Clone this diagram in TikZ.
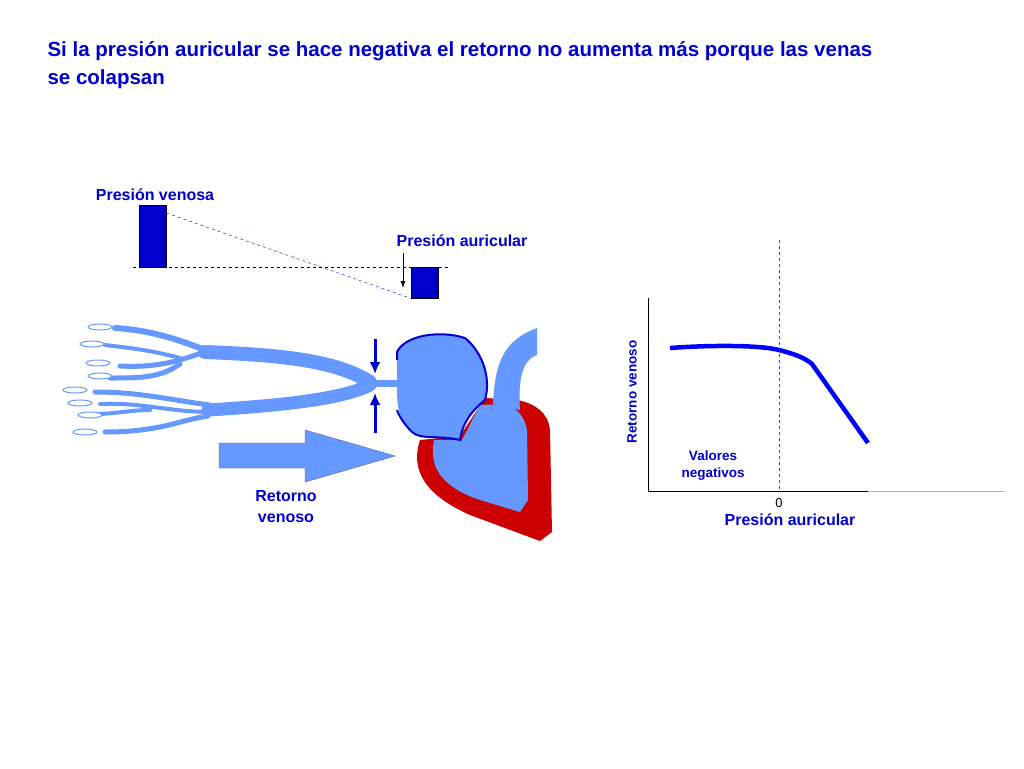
\documentclass[tikz,border=0pt]{standalone}
\usepackage{fontspec}
\setmainfont{Liberation Sans}
\usetikzlibrary{arrows.meta}
\begin{document}
\begin{tikzpicture}[x=1pt,y=-1pt,
  vein/.style={draw=vb,line cap=round,line join=round},
  tip/.style={draw=vb,fill=white,line width=1pt},
  txt/.style={text=dblue,font=\bfseries}]
\definecolor{vb}{RGB}{102,153,255}
\definecolor{hred}{RGB}{204,0,0}
\definecolor{dblue}{RGB}{0,0,204}
\useasboundingbox (0,0) rectangle (1024,768);
% title
\node[txt,anchor=north west,align=left,font=\bfseries\fontsize{20.5}{28}\selectfont] (title) at (44,38) {Si la presión auricular se hace negativa el retorno no aumenta más porque las venas\\se colapsan};
% top boxes
\draw[dashed] (133,267) -- (450,267);
\node[draw=black,fill=dblue,minimum width=27,minimum height=62,inner sep=0,anchor=north west] (pv) at (139,205) {};
\node[draw=black,fill=dblue,minimum width=27,minimum height=31,inner sep=0,anchor=north west] (pa) at (411,267) {};
\draw[dashed,dblue] (pv.north east)++(0,8) -- (pa.south west);
\node[txt,font=\bfseries\fontsize{16}{19}\selectfont] (lpv) at (155,195) {Presión venosa};
\node[txt,font=\bfseries\fontsize{16}{19}\selectfont] (lpa) at (462,241) {Presión auricular};
\coordinate (a1) at (403,253);
\draw[-{Latex[length=7pt,width=5pt]},thick] (a1) -- (403,288);
% veins
\draw[vein,line width=14pt] (205,352) .. controls (280,355) and (335,360) .. (370,382);
\draw[vein,line width=13pt] (208,410) .. controls (290,405) and (345,398) .. (370,385);
\draw[vein,line width=7pt] (360,383) -- (400,383);
\draw[vein,line width=6pt] (205,350) .. controls (180,340) and (150,330) .. (115,328);
\draw[vein,line width=5pt] (205,352) .. controls (180,360) and (160,368) .. (120,366);
\draw[vein,line width=4pt] (180,358) .. controls (150,350) and (130,348) .. (105,345);
\draw[vein,line width=5pt] (180,364) .. controls (160,378) and (140,378) .. (110,378);
\draw[vein,line width=5pt] (210,405) .. controls (170,400) and (140,392) .. (95,392);
\draw[vein,line width=4pt] (210,412) .. controls (170,412) and (140,402) .. (100,404);
\draw[vein,line width=5pt] (208,416) .. controls (180,420) and (160,432) .. (105,432);
\draw[vein,line width=4pt] (150,410) .. controls (130,410) and (115,414) .. (95,414);
\foreach \x/\y in {100/327,92/344,98/363,100/376,75/390,80/403,90/415,85/432}
  \draw[tip] (\x,\y) ellipse (12 and 3);
% heart
\fill[hred] (420,440) .. controls (410,470) and (425,495) .. (470,515) -- (540,541) -- (552,532) -- (550,430) .. controls (548,412) and (535,404) .. (518,400) -- (485,398) -- (460,436) -- cycle;
\fill[vb] (434,440) .. controls (428,470) and (445,488) .. (480,500) -- (520,512) -- (528,500) -- (527,430) .. controls (525,418) and (518,408) .. (505,404) -- (480,405) -- (462,440) -- cycle;
\fill[vb] (493,404) .. controls (495,360) and (505,340) .. (537,328) -- (537,355) .. controls (522,360) and (518,380) .. (520,410) -- cycle;
\path[fill=vb] (397,352) .. controls (405,335) and (440,330) .. (465,338) .. controls (480,350) and (492,375) .. (485,400) .. controls (470,412) and (462,425) .. (460,440) .. controls (440,435) and (420,440) .. (412,432) .. controls (400,420) and (397,410) .. (397,390) -- cycle;
\draw[dblue,line width=2pt] (397,360) -- (397,352) .. controls (405,335) and (440,330) .. (465,338) .. controls (480,350) and (492,375) .. (485,400) .. controls (470,412) and (462,425) .. (460,440) .. controls (440,435) and (420,440) .. (412,432) .. controls (405,425) and (400,418) .. (397,410);
% squeeze arrows
\draw[-{Latex[length=12pt,width=11pt]},dblue,line width=3pt] (375,339) -- (375,374);
\draw[-{Latex[length=12pt,width=11pt]},dblue,line width=3pt] (375,433) -- (375,393);
% big arrow
\draw[fill=vb,draw=gray!70!blue,thin] (219,443) -- (305,443) -- (305,430) -- (395,456) -- (305,482) -- (305,468) -- (219,468) -- cycle;
\node[txt,align=center,font=\bfseries\fontsize{16}{21}\selectfont] (rv) at (286,507) {Retorno\\venoso};
% graph
\coordinate (o) at (648,491);
\draw[thick] (648,298) -- (o) -- (868,491);
\draw[thick,gray!60] (868,491) -- (1005,491);
\draw[dashed,thick,black!70] (779,240) -- (779,491);
\draw[line width=4.5pt,blue] (670,348) .. controls (710,345) and (760,345) .. (779,350) .. controls (795,354) and (805,358) .. (812,364) -- (868,443);
\node[txt,rotate=90,font=\bfseries\fontsize{13.5}{16}\selectfont] (yl) at (632,392) {Retorno venoso};
\node[txt,align=center,font=\bfseries\fontsize{13.5}{17}\selectfont] (vn) at (713,466) {Valores\\negativos};
\node[font=\fontsize{13}{15}\selectfont] (z) at (779,503) {0};
\node[txt,font=\bfseries\fontsize{16}{19}\selectfont] (xl) at (790,520) {Presión auricular};
\end{tikzpicture}
\end{document}
